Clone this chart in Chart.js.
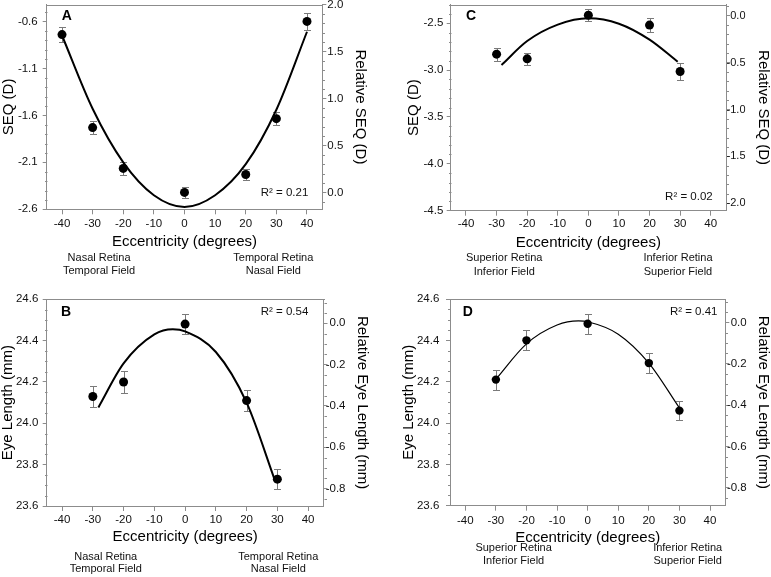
<!DOCTYPE html>
<html><head><meta charset="utf-8">
<script src="https://cdn.jsdelivr.net/npm/chart.js@4.4.1/dist/chart.umd.min.js"></script>
<style>
html,body{margin:0;padding:0;background:#fff;}
body{width:771px;height:577px;position:relative;overflow:hidden;}
canvas{position:absolute;}
</style></head><body>
<canvas id="cA"></canvas><canvas id="cC"></canvas><canvas id="cB"></canvas><canvas id="cD"></canvas>
<script>
// ---------- DATA ----------
const xTickValues = [-40, -30, -20, -10, 0, 10, 20, 30, 40];

// Panel A: SEQ, horizontal meridian
const eccA = [-40, -30, -20, 0, 20, 30, 40];
const seqA = [-0.74, -1.73, -2.165, -2.42, -2.23, -1.635, -0.60];
const seqAErr = [0.076, 0.071, 0.071, 0.06, 0.062, 0.071, 0.094];
const fitAX = [-40, -30, -20, -10, 0, 10, 20, 30, 40];
const fitAY = [-0.75, -1.53, -2.10, -2.45, -2.575, -2.45, -2.12, -1.54, -0.71];
const yTicksA = [-2.6, -2.1, -1.6, -1.1, -0.6];
const y2TicksA = [0, 0.5, 1.0, 1.5, 2.0];

// Panel C: SEQ, vertical meridian
const eccC = [-30, -20, 0, 20, 30];
const seqC = [-2.83, -2.88, -2.415, -2.52, -3.015];
const seqCErr = [0.071, 0.064, 0.064, 0.071, 0.092];
const fitCX = [-28.4, -20, -10, 0, 10, 20, 29.2];
const fitCY = [-2.946, -2.69, -2.515, -2.447, -2.505, -2.675, -2.91];
const yTicksC = [-4.5, -4.0, -3.5, -3.0, -2.5];
const y2TicksC = [-2.0, -1.5, -1.0, -0.5, 0];

// Panel B: eye length, horizontal meridian
const eccB = [-30, -20, 0, 20, 30];
const lenB = [24.13, 24.20, 24.48, 24.11, 23.73];
const lenBErr = [0.05, 0.052, 0.048, 0.049, 0.048];
const fitBX = [-28.2, -20, -10, -4, 0, 10, 20, 29.3];
const fitBY = [24.077, 24.29, 24.43, 24.455, 24.445, 24.345, 24.10, 23.72];
const yTicksB = [23.6, 23.8, 24.0, 24.2, 24.4, 24.6];
const y2TicksB = [-0.8, -0.6, -0.4, -0.2, 0];

// Panel D: eye length, vertical meridian
const eccD = [-30, -20, 0, 20, 30];
const lenD = [24.21, 24.40, 24.48, 24.29, 24.06];
const lenDErr = [0.048, 0.048, 0.048, 0.048, 0.047];
const fitDX = [-30, -20, -10, -3, 0, 10, 20, 30];
const fitDY = [24.212, 24.383, 24.474, 24.494, 24.49, 24.43, 24.29, 24.073];
const yTicksD = [23.6, 23.8, 24.0, 24.2, 24.4, 24.6];
const y2TicksD = [-0.8, -0.6, -0.4, -0.2, 0];

// ---------- STYLE ----------
const FONT = "'Liberation Sans', Arial, Helvetica, sans-serif";
const AXIS_GRAY = '#8c8c8c';
const ERR_GRAY = '#7a7a7a';
const TEXT = '#111';

function makePanel(o) {
  const g = o.geom;
  const cv = document.getElementById(o.id);
  cv.width = g.w; cv.height = g.h;
  cv.style.left = g.x0 + 'px'; cv.style.top = g.y0 + 'px';
  const pts = o.x.map((v, i) => ({x: v, y: o.y[i]}));
  const fit = o.fitX.map((v, i) => ({x: v, y: o.fitY[i]}));
  const tickFont = {family: FONT, size: o.tickSize};
  const titleFont = {family: FONT, size: 15, lineHeight: 1};

  const deco = {
    id: 'deco' + o.id,
    beforeDatasetsDraw(chart) {
      const ctx = chart.ctx, xs = chart.scales.x, ys = chart.scales.y;
      ctx.save(); ctx.strokeStyle = ERR_GRAY; ctx.lineWidth = 1;
      o.x.forEach((xv, i) => {
        const px = Math.round(xs.getPixelForValue(xv)) + 0.5;
        const t = Math.round(ys.getPixelForValue(o.y[i] + o.err[i])) + 0.5;
        const b = Math.round(ys.getPixelForValue(o.y[i] - o.err[i])) + 0.5;
        ctx.beginPath();
        ctx.moveTo(px, t); ctx.lineTo(px, b);
        ctx.moveTo(px - 3.5, t); ctx.lineTo(px + 3.5, t);
        ctx.moveTo(px - 3.5, b); ctx.lineTo(px + 3.5, b);
        ctx.stroke();
      });
      ctx.restore();
    },
    afterDraw(chart) {
      const ctx = chart.ctx, a = chart.chartArea, xs = chart.scales.x;
      ctx.save();
      ctx.strokeStyle = AXIS_GRAY; ctx.lineWidth = 1;
      const ty = Math.round(a.top) + 0.5;
      ctx.beginPath(); ctx.moveTo(Math.round(a.left), ty); ctx.lineTo(Math.round(a.right) + 1, ty); ctx.stroke();
      // minor ticks
      [['y', -1, o.yTicks], ['y2', 1, o.y2Ticks]].forEach(([id, dir, majors]) => {
        const s = chart.scales[id];
        const step = o.minorStep;
        const edge = Math.round(dir < 0 ? s.right : s.left) + 0.5;
        const k0 = Math.ceil(s.min / step - 1e-6), k1 = Math.floor(s.max / step + 1e-6);
        ctx.beginPath();
        for (let k = k0; k <= k1; k++) {
          const v = k * step;
          if (majors.some(m => Math.abs(m - v) < step / 10)) continue;
          const py = Math.round(s.getPixelForValue(v)) + 0.5;
          ctx.moveTo(edge, py); ctx.lineTo(edge + dir * 2.5, py);
        }
        ctx.stroke();
      });
      // texts
      ctx.fillStyle = '#000';
      ctx.textBaseline = 'middle';
      ctx.font = 'bold 14px ' + FONT; ctx.textAlign = 'left';
      ctx.fillText(o.letter, o.letterPos[0] - g.x0, o.letterPos[1] - g.y0);
      ctx.fillStyle = TEXT;
      ctx.font = o.tickSize + 'px ' + FONT; ctx.textAlign = 'right';
      ctx.fillText(o.r2, o.r2Pos[0] - g.x0, o.r2Pos[1] - g.y0);
      ctx.font = '11px ' + FONT; ctx.textAlign = 'center';
      o.captions.forEach(c => {
        const px = xs.getPixelForValue(c.at);
        c.lines.forEach((t, j) => ctx.fillText(t, px, o.capY[j] - g.y0));
      });
      ctx.restore();
    }
  };

  const gridCfg = {display: true, drawOnChartArea: false, drawTicks: true, tickLength: 4,
                   color: AXIS_GRAY, tickColor: AXIS_GRAY, lineWidth: 1};
  const borderCfg = {display: true, color: AXIS_GRAY, width: 1};

  new Chart(cv.getContext('2d'), {
    type: 'scatter',
    data: {datasets: [
      {data: pts, pointRadius: o.pr, pointHoverRadius: o.pr, pointBackgroundColor: '#000',
       pointBorderWidth: 0, showLine: false},
      {type: 'line', data: fit, borderColor: '#000', borderWidth: o.lw, pointRadius: 0,
       cubicInterpolationMode: 'monotone', fill: false}
    ]},
    options: {
      responsive: false, animation: false, events: [],
      layout: {padding: {top: g.T - g.y0, left: 0, right: g.x0 + g.w - o.labRight, bottom: 0}},
      plugins: {legend: {display: false}, tooltip: {enabled: false}},
      scales: {
        x: {
          type: 'linear', position: 'bottom', min: -45, max: 45,
          afterBuildTicks: s => { s.ticks = xTickValues.map(v => ({value: v})); },
          afterFit: s => { s.height = g.y0 + g.h - g.B; s.paddingLeft = 0; s.paddingRight = 0; },
          grid: Object.assign({}, gridCfg, {tickLength: 5}), border: borderCfg,
          ticks: {font: tickFont, color: TEXT, padding: o.xPad, maxRotation: 0, minRotation: 0,
                  autoSkip: false, callback: v => String(v)},
          title: {display: true, text: 'Eccentricity (degrees)', font: titleFont, color: '#000',
                  padding: {top: 0, bottom: o.xTitleOff - 7.5}}
        },
        y: {
          type: 'linear', position: 'left', min: o.yMin, max: o.yMax,
          afterBuildTicks: s => { s.ticks = o.yTicks.map(v => ({value: v})); },
          afterFit: s => { s.width = g.L - g.x0; s.paddingTop = 0; s.paddingBottom = 0; },
          grid: gridCfg, border: borderCfg,
          ticks: {font: tickFont, color: TEXT, padding: o.yPad, autoSkip: false,
                  callback: v => Number(v).toFixed(1)},
          title: {display: true, text: o.yTitle, font: titleFont, color: '#000',
                  padding: {top: Math.max(0, o.yTitleOff - 7.5), bottom: 0}}
        },
        y2: {
          type: 'linear', position: 'right', min: o.y2Min, max: o.y2Max,
          afterBuildTicks: s => { s.ticks = o.y2Ticks.map(v => ({value: v})); },
          afterFit: s => { s.width = o.labRight - g.R; s.paddingTop = 0; s.paddingBottom = 0; },
          grid: gridCfg, border: borderCfg,
          ticks: {font: {family: FONT, size: o.y2Size}, color: TEXT, autoSkip: false, crossAlign: 'far',
                  callback: v => Number(v).toFixed(1)},
          title: {display: true, text: o.y2Title, font: titleFont, color: '#000',
                  padding: {top: (o.labRight - o.y2TitleX) - 7.5, bottom: 0}}
        }
      }
    },
    plugins: [deco]
  });
}

makePanel({
  id: 'cA', geom: {x0: 0, y0: 0, w: 385, h: 290, L: 46.7, T: 3.3, R: 322.3, B: 209.3},
  x: eccA, y: seqA, err: seqAErr, fitX: fitAX, fitY: fitAY,
  yMin: -2.6, yMax: -0.42, y2Min: -0.18, y2Max: 2.0, yTicks: yTicksA, y2Ticks: y2TicksA, minorStep: 0.1,
  yTitle: 'SEQ (D)', y2Title: 'Relative SEQ (D)', yTitleOff: 8.8, y2TitleX: 360, xTitleOff: 48.3,
  tickSize: 11.5, y2Size: 11.5, labRight: 343.3, xPad: 2.6, yPad: 5, lw: 2, pr: 4.5,
  letter: 'A', letterPos: [61.7, 15.8], r2: 'R² = 0.21', r2Pos: [308.3, 193.3],
  capY: [257.7, 270.7],
  captions: [{at: -27.9, lines: ['Nasal Retina', 'Temporal Field']},
             {at: 29, lines: ['Temporal Retina', 'Nasal Field']}]
});

makePanel({
  id: 'cC', geom: {x0: 385, y0: 0, w: 386, h: 290, L: 450.7, T: 3.3, R: 726, B: 210.7},
  x: eccC, y: seqC, err: seqCErr, fitX: fitCX, fitY: fitCY,
  yMin: -4.5, yMax: -2.30, y2Min: -2.08, y2Max: 0.12, yTicks: yTicksC, y2Ticks: y2TicksC, minorStep: 0.1,
  yTitle: 'SEQ (D)', y2Title: 'Relative SEQ (D)', yTitleOff: 29.2, y2TitleX: 763.3, xTitleOff: 47.3,
  tickSize: 11.5, y2Size: 11, labRight: 745.5, xPad: 1.4, yPad: 3.4, lw: 2, pr: 4.5,
  letter: 'C', letterPos: [466, 16.2], r2: 'R² = 0.02', r2Pos: [712.7, 196.7],
  capY: [258.3, 271.7],
  captions: [{at: -27.5, lines: ['Superior Retina', 'Inferior Field']},
             {at: 29.3, lines: ['Inferior Retina', 'Superior Field']}]
});

makePanel({
  id: 'cB', geom: {x0: 0, y0: 290, w: 385, h: 287, L: 46.7, T: 299.3, R: 323.5, B: 506},
  x: eccB, y: lenB, err: lenBErr, fitX: fitBX, fitY: fitBY,
  yMin: 23.6, yMax: 24.6, y2Min: -0.884, y2Max: 0.116, yTicks: yTicksB, y2Ticks: y2TicksB, minorStep: 0.05,
  yTitle: 'Eye Length (mm)', y2Title: 'Relative Eye Length (mm)', yTitleOff: 7.2, y2TitleX: 361.7, xTitleOff: 39.7,
  tickSize: 11.5, y2Size: 11.5, labRight: 345.5, xPad: 2.1, yPad: 4.4, lw: 2, pr: 4.5,
  letter: 'B', letterPos: [61, 312], r2: 'R² = 0.54', r2Pos: [308.3, 311.7],
  capY: [556.7, 569],
  captions: [{at: -25.8, lines: ['Nasal Retina', 'Temporal Field']},
             {at: 30.3, lines: ['Temporal Retina', 'Nasal Field']}]
});

makePanel({
  id: 'cD', geom: {x0: 385, y0: 290, w: 386, h: 287, L: 450, T: 299, R: 725.3, B: 505.7},
  x: eccD, y: lenD, err: lenDErr, fitX: fitDX, fitY: fitDY,
  yMin: 23.6, yMax: 24.6, y2Min: -0.887, y2Max: 0.113, yTicks: yTicksD, y2Ticks: y2TicksD, minorStep: 0.05,
  yTitle: 'Eye Length (mm)', y2Title: 'Relative Eye Length (mm)', yTitleOff: 24.3, y2TitleX: 763.3, xTitleOff: 39.3,
  tickSize: 11.5, y2Size: 11.5, labRight: 746.7, xPad: 3.4, yPad: 6.7, lw: 1.2, pr: 4.2,
  letter: 'D', letterPos: [462.7, 312], r2: 'R² = 0.41', r2Pos: [717.5, 311.7],
  capY: [548.3, 560.7],
  captions: [{at: -24.2, lines: ['Superior Retina', 'Inferior Field']},
             {at: 32.7, lines: ['Inferior Retina', 'Superior Field']}]
});
</script>
</body></html>
